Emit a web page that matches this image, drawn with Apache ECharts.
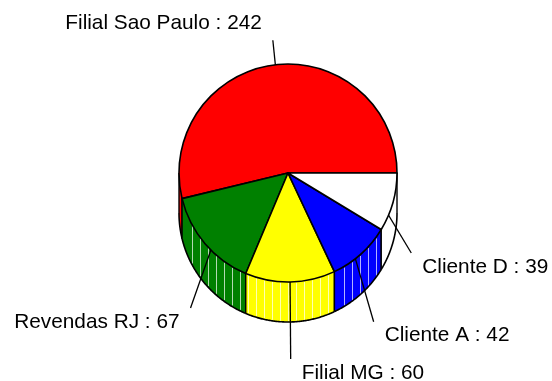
<!DOCTYPE html>
<html>
<head>
<meta charset="utf-8">
<script src="https://cdn.jsdelivr.net/npm/echarts@6/dist/echarts.min.js"></script>
<style>
  html, body { margin: 0; padding: 0; background: #ffffff; }
  #chart { width: 552px; height: 381px; }
</style>
</head>
<body>
<div id="chart"></div>
<script>
// Sales share by channel
const categories = ['Filial Sao Paulo', 'Revendas RJ', 'Filial MG', 'Cliente A', 'Cliente D'];
const values = [242, 67, 60, 42, 39];
const colors = ['#ff0000', '#008000', '#ffff00', '#0000ff', '#ffffff'];

// Disc geometry
const CX = 288, CY = 173, R = 109, DEPTH = 40;

const total = values.reduce((a, b) => a + b, 0);
// Angular span of each slice, degrees counterclockwise from east
const spans = [];
let acc = 0;
values.forEach(v => {
  const a0 = acc / total * 360;
  acc += v;
  spans.push([a0, acc / total * 360]);
});

function pt(deg, r, dy) {
  const t = deg * Math.PI / 180;
  return [CX + r * Math.cos(t), CY - r * Math.sin(t) + (dy || 0)];
}

// Front wall of the disc for one slice: colored band with light stripes
function renderSide(params, api) {
  const i = api.value(0);
  const lo = Math.max(spans[i][0], 180);
  const hi = Math.min(spans[i][1], 360);
  if (hi <= lo) return;
  const top = [], bot = [];
  const steps = Math.max(2, Math.ceil((hi - lo) * 2));
  for (let k = 0; k <= steps; k++) {
    const d = lo + (hi - lo) * k / steps;
    top.push(pt(d, R));
    bot.push(pt(d, R, DEPTH));
  }
  const children = [{
    type: 'polygon',
    shape: { points: top.concat(bot.slice().reverse()) },
    style: { fill: colors[i], stroke: null }
  }];
  const x0 = top[0][0], x1 = top[top.length - 1][0];
  for (let x = Math.ceil((x0 + 2) / 8) * 8; x < x1 - 1; x += 8) {
    const yTop = CY + Math.sqrt(Math.max(0, R * R - (x - CX) * (x - CX)));
    children.push({
      type: 'line',
      shape: { x1: x + 0.5, y1: yTop + 1, x2: x + 0.5, y2: yTop + DEPTH - 1 },
      style: { stroke: 'rgba(255,255,255,0.7)', lineWidth: 1 }
    });
  }
  children.push({
    type: 'polyline',
    shape: { points: bot },
    style: { stroke: '#000', lineWidth: 1.6, fill: null }
  });
  [top[0], top[top.length - 1]].forEach(p => {
    children.push({
      type: 'line',
      shape: { x1: p[0], y1: p[1], x2: p[0], y2: p[1] + DEPTH },
      style: { stroke: '#000', lineWidth: 1.4 }
    });
  });
  return { type: 'group', children: children };
}

const chart = echarts.init(document.getElementById('chart'), null, { renderer: 'canvas' });

chart.setOption({
  animation: false,
  backgroundColor: '#ffffff',
  series: [
    {
      type: 'custom',
      coordinateSystem: 'none',
      silent: true,
      z: 1,
      data: values.map((v, i) => [i, v]),
      renderItem: renderSide
    },
    {
      type: 'pie',
      z: 2,
      center: [CX, CY],
      radius: R,
      startAngle: 0,
      clockwise: false,
      silent: true,
      emphasis: { disabled: true },
      data: categories.map((name, i) => ({
        name: name,
        value: values[i],
        itemStyle: { color: colors[i] }
      })),
      itemStyle: { borderColor: '#000000', borderWidth: 1.6 },
      label: {
        show: true,
        position: 'outside',
        formatter: '{b} : {c}',
        color: '#000000',
        fontFamily: '"Liberation Sans", Arial, sans-serif',
        fontSize: 20.8,
        overflow: 'none',
        width: 300
      },
      labelLine: {
        show: true,
        lineStyle: { color: '#000000', width: 1.3 }
      },
      labelLayout: function (params) {
        const i = params.dataIndex;
        const mid = (spans[i][0] + spans[i][1]) / 2;
        const t = mid * Math.PI / 180;
        const c = Math.cos(t), s = Math.sin(t);
        const start = pt(mid, R * 0.86);
        const end = [CX + 128 * c, CY - 160 * s + 26 + 15 * (1 - Math.abs(s))];
        const right = c >= 0;
        return {
          x: end[0] + (right ? 11 : -11),
          y: end[1] + (s > 0 ? -17 : 14),
          align: right ? 'left' : 'right',
          verticalAlign: 'middle',
          labelLinePoints: [start, end, end]
        };
      }
    }
  ]
});
</script>
</body>
</html>
